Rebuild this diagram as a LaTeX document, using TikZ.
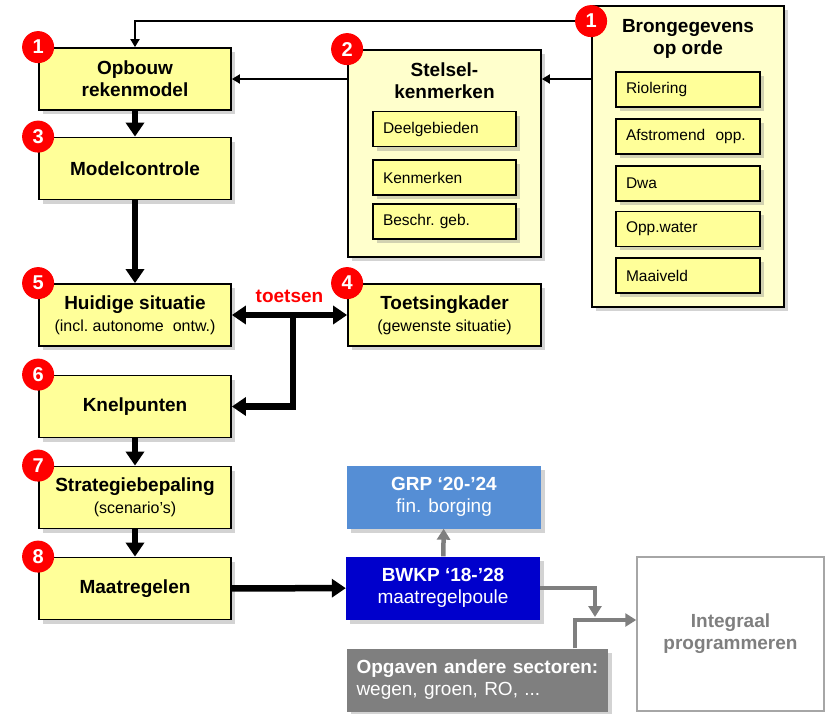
\documentclass[tikz,border=0pt]{standalone}
\usepackage{fontspec}
\setmainfont{Liberation Sans}
\usetikzlibrary{arrows.meta,positioning,shadows}
\definecolor{geel}{HTML}{FFFF99}
\definecolor{lichtgeel}{HTML}{FFFFCC}
\definecolor{grpblauw}{HTML}{558ED5}
\definecolor{bwkpblauw}{HTML}{0000CC}
\definecolor{grijs}{HTML}{7F7F7F}
\definecolor{lijngrijs}{HTML}{A6A6A6}
\newcommand\koptekst{\fontsize{19}{22}\selectfont\bfseries}
\newcommand\kleintekst{\fontsize{16}{22}\selectfont\mdseries}
\newcommand\lijsttekst{\fontsize{15.5}{18}\selectfont}
\newcommand\gewoontekst{\fontsize{19}{22}\selectfont}
\tikzset{
  schaduw/.style={drop shadow={shadow xshift=4pt, shadow yshift=-4pt, opacity=.35}},
  stap/.style={draw, line width=1.8pt, fill=geel, minimum width=192pt, minimum height=62pt, align=center, font=\koptekst, schaduw},
  bak/.style={draw, line width=1.8pt, fill=lichtgeel, schaduw},
  lijst/.style={draw, line width=1.8pt, fill=geel, minimum height=35pt, inner xsep=10pt, align=left, font=\lijsttekst, schaduw},
  nr/.style={circle, fill=red, text=white, minimum size=32pt, inner sep=0pt, font=\fontsize{20}{20}\selectfont\bfseries},
  titel/.style={align=center, font=\koptekst, inner sep=0pt},
  blok/.style={minimum width=194pt, minimum height=63pt, align=center, text=white, font=\gewoontekst, schaduw},
  dun/.style={line width=2.5pt, -{Triangle[length=8pt,width=9pt]}},
  dik/.style={line width=6.5pt, -{Triangle[length=14pt,width=18pt]}},
  dubbel/.style={line width=6.5pt, {Triangle[length=14pt,width=18pt]}-{Triangle[length=14pt,width=18pt]}},
  grijspijl/.style={draw=grijs, line width=4.5pt, -{Triangle[length=11pt,width=13pt]}}
}

\begin{document}
\begin{tikzpicture}[x=1pt, y=-1pt]
\useasboundingbox (0,0) rectangle (825,713);
% stappen links
\node[stap] (opbouw) at (135,79) {Opbouw\\rekenmodel};
\node[stap] (controle) at (135,168.5) {Modelcontrole};
\node[stap] (huidig) at (135,315) {Huidige situatie\\{\kleintekst (incl.\ autonome\ \ ontw.)}};
\node[stap] (knel) at (135,406.5) {Knelpunten};
\node[stap] (strategie) at (135,497.5) {Strategiebepaling\\{\kleintekst (scenario’s)}};
\node[stap] (maatregel) at (135,588.5) {Maatregelen};
\node[stap, minimum width=193pt] (toets) at (444.5,315) {Toetsingkader\\{\kleintekst (gewenste situatie)}};
% stelselkenmerken
\node[bak, minimum width=193pt, minimum height=207pt] (stelsel) at (444.5,153.5) {};
\node[titel] (stelseltitel) at (444.5,81) {Stelsel-\\kenmerken};
\node[lijst, text width=123pt] (deel) at (444.5,129) {Deelgebieden};
\node[lijst, text width=123pt, below=12pt of deel] (kenm) {Kenmerken};
\node[lijst, text width=123pt, below=7pt of kenm] (beschr) {Beschr.\ geb.};
% brongegevens
\node[bak, minimum width=192pt, minimum height=301pt] (bron) at (688,156.5) {};
\node[titel] (brontitel) at (688,39) {Brongegevens\\op orde};
\node[lijst, text width=124pt] (riool) at (688,89.5) {Riolering};
\node[lijst, text width=124pt, below=10pt of riool] (afstroom) {Afstromend\ \ opp.};
\node[lijst, text width=124pt, below=10pt of afstroom] (dwa) {Dwa};
\node[lijst, text width=124pt, below=9pt of dwa] (oppwater) {Opp.water};
\node[lijst, text width=124pt, below=10pt of oppwater] (maaiveld) {Maaiveld};
% uitvoering
\node[blok, fill=grpblauw] (grp) at (444,497) {\textbf{GRP ‘20-’24}\\fin. borging};
\node[blok, fill=bwkpblauw] (bwkp) at (443,588) {\textbf{BWKP ‘18-’28}\\maatregelpoule};
\node[blok, fill=grijs, minimum width=261pt, text width=242pt, inner xsep=9pt, align=left] (opgaven) at (477.5,680) {\textbf{Opgaven andere sectoren:}\\wegen, groen, RO, ...};
\node[draw=lijngrijs, line width=1.5pt, fill=white, minimum width=187pt, minimum height=154pt, align=center, text=grijs, font=\koptekst] (integraal) at (730.5,634) {Integraal\\programmeren};
% pijlen
\draw[dun] ([yshift=-16pt]bron.north west) -| (opbouw.north);
\draw[dun] (stelsel.west |- opbouw.east) -- (opbouw.east);
\draw[dun] (bron.west |- opbouw.east) -- (stelsel.east |- opbouw.east);
\draw[dik] (opbouw) -- (controle);
\draw[dik] (controle) -- (huidig);
\draw[dubbel] (huidig) -- node[above=6pt, text=red, font=\koptekst] (toetsen) {toetsen} (toets);
\coordinate (splits) at (293,315);
\draw[dik] (splits) |- (knel.east);
\draw[dik] (knel) -- (strategie);
\draw[dik] (strategie) -- (maatregel);
\draw[dik] (maatregel) -- (bwkp);
\draw[grijspijl] (bwkp) -- (grp);
\coordinate (samen) at (595,620);
\draw[grijspijl] (bwkp.east) -| ([yshift=3pt]samen);
\draw[grijspijl] ([xshift=97.5pt]opgaven.north) |- (samen -| integraal.west);
% nummers
\node[nr] (nr1) at (opbouw.north west) {1};
\node[nr] (nr1b) at ([yshift=-16pt]bron.north west) {1};
\node[nr] (nr2) at (stelsel.north west) {2};
\node[nr] (nr3) at (controle.north west) {3};
\node[nr] (nr4) at (toets.north west) {4};
\node[nr] (nr5) at (huidig.north west) {5};
\node[nr] (nr6) at (knel.north west) {6};
\node[nr] (nr7) at (strategie.north west) {7};
\node[nr] (nr8) at (maatregel.north west) {8};
\end{tikzpicture}
\end{document}
